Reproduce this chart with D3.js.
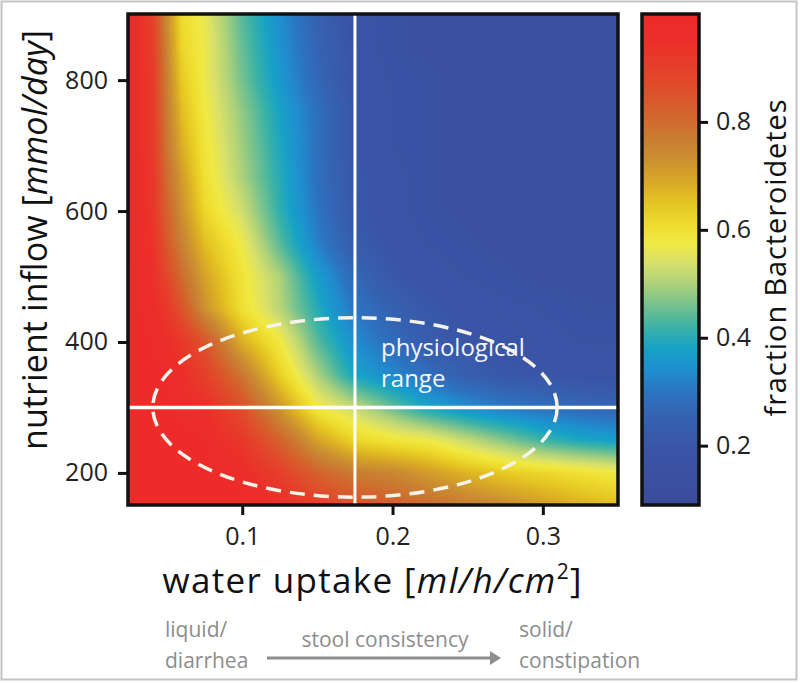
<!DOCTYPE html>
<html>
<head>
<meta charset="utf-8">
<script src="https://cdn.jsdelivr.net/npm/d3@7"></script>
<style>
  body { margin: 0; background: #fff; }
  svg { display: block; font-family: "Open Sans", sans-serif; }
</style>
</head>
<body>
<svg id="s" width="800" height="683"></svg>
<script>
// Data
const waterUptake = [0.025, 0.04, 0.05, 0.06, 0.075, 0.1, 0.125, 0.15, 0.175, 0.2, 0.225, 0.25, 0.275, 0.3, 0.325, 0.35],
  nutrientInflow = [150, 200, 250, 300, 350, 400, 450, 500, 550, 600, 650, 700, 750, 800, 850, 900],
  // one row per nutrient inflow value, one column per water uptake value
  fraction = [
    [0.98, 0.98, 0.98, 0.98, 0.98, 0.98, 0.95, 0.90, 0.86, 0.83, 0.80, 0.77, 0.74, 0.71, 0.68, 0.66],
    [0.98, 0.98, 0.98, 0.98, 0.98, 0.96, 0.90, 0.82, 0.77, 0.75, 0.71, 0.67, 0.64, 0.62, 0.60, 0.58],
    [0.98, 0.98, 0.98, 0.98, 0.97, 0.92, 0.82, 0.70, 0.62, 0.59, 0.57, 0.52, 0.47, 0.42, 0.39, 0.37],
    [0.98, 0.98, 0.97, 0.96, 0.95, 0.86, 0.72, 0.58, 0.52, 0.45, 0.38, 0.34, 0.31, 0.29, 0.27, 0.26],
    [0.98, 0.98, 0.97, 0.95, 0.90, 0.78, 0.63, 0.50, 0.38, 0.33, 0.28, 0.24, 0.21, 0.20, 0.19, 0.18],
    [0.98, 0.97, 0.95, 0.92, 0.85, 0.68, 0.58, 0.44, 0.34, 0.28, 0.23, 0.20, 0.19, 0.18, 0.17, 0.17],
    [0.98, 0.96, 0.92, 0.85, 0.73, 0.60, 0.51, 0.40, 0.30, 0.25, 0.21, 0.19, 0.18, 0.17, 0.16, 0.16],
    [0.98, 0.95, 0.88, 0.80, 0.70, 0.59, 0.50, 0.37, 0.27, 0.21, 0.18, 0.17, 0.16, 0.15, 0.15, 0.14],
    [0.97, 0.94, 0.84, 0.76, 0.66, 0.57, 0.44, 0.32, 0.23, 0.19, 0.17, 0.16, 0.15, 0.14, 0.14, 0.14],
    [0.97, 0.93, 0.82, 0.73, 0.62, 0.53, 0.41, 0.30, 0.21, 0.18, 0.16, 0.15, 0.14, 0.14, 0.14, 0.13],
    [0.97, 0.93, 0.80, 0.71, 0.60, 0.50, 0.40, 0.29, 0.21, 0.18, 0.16, 0.15, 0.14, 0.14, 0.13, 0.13],
    [0.97, 0.92, 0.78, 0.68, 0.59, 0.49, 0.39, 0.29, 0.20, 0.17, 0.16, 0.15, 0.14, 0.14, 0.13, 0.13],
    [0.97, 0.92, 0.77, 0.66, 0.58, 0.48, 0.38, 0.29, 0.20, 0.17, 0.16, 0.15, 0.14, 0.14, 0.13, 0.13],
    [0.97, 0.92, 0.76, 0.64, 0.57, 0.46, 0.36, 0.27, 0.19, 0.17, 0.16, 0.15, 0.14, 0.14, 0.13, 0.13],
    [0.97, 0.91, 0.75, 0.62, 0.57, 0.45, 0.35, 0.26, 0.19, 0.16, 0.15, 0.14, 0.14, 0.13, 0.13, 0.13],
    [0.97, 0.90, 0.74, 0.61, 0.56, 0.44, 0.34, 0.25, 0.18, 0.16, 0.15, 0.14, 0.14, 0.13, 0.13, 0.13]
  ],
  xTicks = [0.1, 0.2, 0.3],
  yTicks = [200, 400, 600, 800],
  cTicks = [0.2, 0.4, 0.6, 0.8],
  colorStops = [0.09, 0.2, 0.255, 0.3, 0.34, 0.38, 0.42, 0.465, 0.5, 0.54, 0.575, 0.61, 0.65, 0.69, 0.73, 0.77, 0.82, 0.88, 0.95, 1.0],
  colorHex = ["#3b4c9c", "#3a55a6", "#3562b2", "#2c74c0", "#1f8ecf", "#17a2c6", "#3cb2a6", "#7cc38c", "#aed27a", "#d8e06a",
    "#f0e944", "#eedc2e", "#e4c422", "#d8a826", "#cc9030", "#c97c32", "#d4622c", "#e2462a", "#ec2e2a", "#ee2a2a"],
  // physiological range (ellipse extent) and its centre lines
  rangeX = [0.0405, 0.3095],
  rangeY = [163, 437],
  centre = {x: 0.175, y: 300};

const svg = d3.select("#s"),
  plot = {l: 128, r: 618, t: 14, b: 505},
  bar = {l: 642, r: 699},
  x = d3.scaleLinear([0.024, 0.35], [plot.l, plot.r]),
  y = d3.scaleLinear([151, 901], [plot.b, plot.t]),
  cy = d3.scaleLinear([0.09, 1.0], [plot.b, plot.t]),
  color = d3.scaleLinear(colorStops, colorHex).clamp(true);

// outer frame
svg.append("rect")
  .attr("x", 1.5).attr("y", 1.5).attr("width", 795).attr("height", 678)
  .attr("fill", "none").attr("stroke", "#c4c4c4").attr("stroke-width", 2);

// Heat map, drawn pixel by pixel onto a canvas
const w = plot.r - plot.l, h = plot.b - plot.t,
  cvs = document.createElement("canvas");
cvs.width = w;
cvs.height = h;
const ctx = cvs.getContext("2d"),
  img = ctx.createImageData(w, h),
  rows = fraction.map(r => d3.scaleLinear(waterUptake, r).clamp(true)),
  lut = d3.range(512).map(i => d3.rgb(color(0.09 + i / 511 * 0.91)));
for (let i = 0; i < w; i++) {
  const xv = x.invert(plot.l + i + 0.5),
    col = d3.scaleLinear(nutrientInflow, rows.map(s => s(xv))).clamp(true);
  for (let j = 0; j < h; j++) {
    const v = col(y.invert(plot.t + j + 0.5)),
      c = lut[Math.max(0, Math.min(511, Math.round((v - 0.09) / 0.91 * 511)))],
      k = (j * w + i) * 4;
    img.data[k] = c.r;
    img.data[k + 1] = c.g;
    img.data[k + 2] = c.b;
    img.data[k + 3] = 255;
  }
}
ctx.putImageData(img, 0, 0);
svg.append("image")
  .attr("x", plot.l).attr("y", plot.t).attr("width", w).attr("height", h)
  .attr("preserveAspectRatio", "none")
  .attr("href", cvs.toDataURL());

// centre lines
svg.append("line")
  .attr("x1", x(centre.x)).attr("x2", x(centre.x)).attr("y1", plot.t).attr("y2", plot.b)
  .attr("stroke", "#fff").attr("stroke-width", 3);
svg.append("line")
  .attr("x1", plot.l).attr("x2", plot.r).attr("y1", y(centre.y)).attr("y2", y(centre.y))
  .attr("stroke", "#fff").attr("stroke-width", 3.5);

// physiological range
svg.append("ellipse")
  .attr("cx", (x(rangeX[0]) + x(rangeX[1])) / 2)
  .attr("cy", (y(rangeY[0]) + y(rangeY[1])) / 2)
  .attr("rx", (x(rangeX[1]) - x(rangeX[0])) / 2)
  .attr("ry", (y(rangeY[0]) - y(rangeY[1])) / 2)
  .attr("fill", "none").attr("stroke", "#f6f3ea").attr("stroke-width", 3.5)
  .attr("stroke-dasharray", "15 9");

svg.append("text")
  .attr("fill", "#f4f6fb").attr("font-size", 24)
  .selectAll("tspan").data(["physiological", "range"]).join("tspan")
  .attr("x", 381).attr("y", (d, i) => 356 + i * 31).text(d => d);

// frame
svg.append("rect")
  .attr("x", plot.l).attr("y", plot.t).attr("width", w).attr("height", h)
  .attr("fill", "none").attr("stroke", "#111").attr("stroke-width", 3.5);

const styleAxis = g => {
  g.select(".domain").remove();
  g.selectAll(".tick line").attr("stroke", "#111").attr("stroke-width", 3);
  g.selectAll(".tick text").attr("fill", "#222").attr("font-size", 25).attr("font-family", "'Open Sans', sans-serif");
};

svg.append("g")
  .attr("transform", `translate(0,${plot.b})`)
  .call(d3.axisBottom(x).tickValues(xTicks).tickSize(10).tickPadding(12).tickFormat(d3.format(".1f")))
  .call(styleAxis);
svg.append("g")
  .attr("transform", `translate(${plot.l},0)`)
  .call(d3.axisLeft(y).tickValues(yTicks).tickSize(10).tickPadding(10))
  .call(styleAxis);

// colour bar
const grad = svg.append("defs").append("linearGradient")
  .attr("id", "cbar").attr("x1", 0).attr("y1", 1).attr("x2", 0).attr("y2", 0);
grad.selectAll("stop").data(colorStops).join("stop")
  .attr("offset", d => (d - 0.09) / 0.91)
  .attr("stop-color", (d, i) => colorHex[i]);
svg.append("rect")
  .attr("x", bar.l).attr("y", cy(1.0)).attr("width", bar.r - bar.l).attr("height", cy(0.09) - cy(1.0))
  .attr("fill", "url(#cbar)").attr("stroke", "#111").attr("stroke-width", 3.5);
svg.append("g")
  .attr("transform", `translate(${bar.r},0)`)
  .call(d3.axisRight(cy).tickValues(cTicks).tickSize(9).tickPadding(8).tickFormat(d3.format(".1f")))
  .call(styleAxis);

// axis titles
const ylab = svg.append("text")
  .attr("transform", "translate(47,240) rotate(-90)")
  .attr("text-anchor", "middle").attr("font-size", 34).attr("fill", "#111")
  .attr("textLength", 420).attr("lengthAdjust", "spacing");
ylab.append("tspan").text("nutrient inflow [");
ylab.append("tspan").attr("font-style", "italic").text("mmol/day");
ylab.append("tspan").text("]");

const xlab = svg.append("text")
  .attr("x", 372).attr("y", 593)
  .attr("text-anchor", "middle").attr("font-size", 35).attr("fill", "#111")
  .attr("textLength", 419).attr("lengthAdjust", "spacing");
xlab.append("tspan").text("water uptake [");
xlab.append("tspan").attr("font-style", "italic").text("ml/h/cm");
xlab.append("tspan").attr("font-size", 21).attr("dy", -14).text("2");
xlab.append("tspan").attr("dy", 14).text("]");

svg.append("text")
  .attr("transform", "translate(786,258) rotate(-90)")
  .attr("text-anchor", "middle").attr("font-size", 29).attr("fill", "#111")
  .attr("textLength", 317).attr("lengthAdjust", "spacing")
  .text("fraction Bacteroidetes");

// stool consistency note
const grey = "#8d8d8d",
  note = svg.append("g").attr("fill", grey).attr("font-size", 21);
note.append("text").attr("x", 165).attr("y", 637).text("liquid/");
note.append("text").attr("x", 165).attr("y", 668).text("diarrhea");
note.append("text").attr("x", 385).attr("y", 647).attr("text-anchor", "middle").text("stool consistency");
note.append("text").attr("x", 519).attr("y", 637).text("solid/");
note.append("text").attr("x", 519).attr("y", 668).text("constipation");
note.append("line")
  .attr("x1", 267).attr("x2", 492).attr("y1", 658).attr("y2", 658)
  .attr("stroke", grey).attr("stroke-width", 3);
note.append("path").attr("d", "M490,651 L501,658 L490,665 Z");
</script>
</body>
</html>
